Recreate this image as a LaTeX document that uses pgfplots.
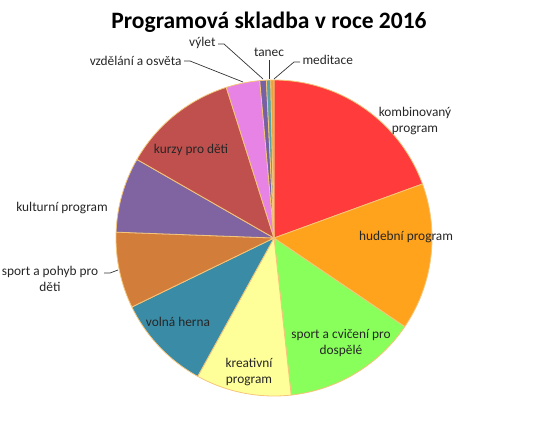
\documentclass[border=0pt]{standalone}
\usepackage{pgfplots}
\pgfplotsset{compat=1.18}
\usepackage{pgfplotstable}
\usepackage{fontspec}
\setmainfont{Carlito}

\definecolor{cKomb}{HTML}{FF3B3B}
\definecolor{cHudba}{HTML}{FFA21C}
\definecolor{cSportD}{HTML}{88FF5A}
\definecolor{cKreat}{HTML}{FFFF99}
\definecolor{cHerna}{HTML}{3A8BA6}
\definecolor{cSportK}{HTML}{D27D3A}
\definecolor{cKult}{HTML}{8064A2}
\definecolor{cKurzy}{HTML}{C0504D}
\definecolor{cOsveta}{HTML}{E683E5}
\definecolor{cVylet}{HTML}{7660A6}
\definecolor{cTanec}{HTML}{5DA0A5}
\definecolor{cMedit}{HTML}{E8A33C}
\definecolor{cEdge}{HTML}{F5C67A}

% share of each programme (percent), clockwise from 12 o'clock
\pgfplotstableread[col sep=comma]{
value,color
19.44,cKomb
15.03,cHudba
13.78,cSportD
9.75,cKreat
9.78,cHerna
7.78,cSportK
7.69,cKult
11.83,cKurzy
3.44,cOsveta
0.67,cVylet
0.44,cTanec
0.33,cMedit
}\piedata

\begin{document}
\begin{tikzpicture}[
    slice/.style={draw=cEdge, line width=0.8bp, line join=round},
    lbl/.style={font=\fontsize{13.4}{16.5}\selectfont, align=center, text=black!85},
    lead/.style={black!80, line width=0.7bp},
]
\pgfplotstablegetrowsof{\piedata}
\pgfmathtruncatemacro\lastrow{\pgfplotsretval-1}
\gdef\total{0}
\foreach \i in {0,...,\lastrow}{%
  \pgfplotstablegetelem{\i}{value}\of\piedata
  \pgfmathsetmacro\tmpsum{\total+\pgfplotsretval}%
  \global\let\total\tmpsum
}
\gdef\acc{0}
\begin{axis}[
    width=542bp, height=437bp, scale only axis,
    xmin=0, xmax=542, ymin=0, ymax=437,
    y dir=reverse,
    axis line style={draw=none},
    xtick=\empty, ytick=\empty,
    clip=false,
]
\pgfplotsinvokeforeach{0,...,\lastrow}{
  \pgfplotstablegetelem{#1}{value}\of\piedata
  \let\sliceval\pgfplotsretval
  \pgfplotstablegetelem{#1}{color}\of\piedata
  \let\slicecol\pgfplotsretval
  \pgfmathsetmacro\sliceend{\acc+360*\sliceval/\total}
  \edef\tmp{\noexpand\addplot[slice, fill=\slicecol, domain=\acc:\sliceend, samples=60]
    ({274+158*sin(x)},{238-158*cos(x)}) -- (axis cs:274,238) -- cycle;}
  \tmp
  \global\let\acc\sliceend
}

\node[font=\fontsize{23.6}{28}\selectfont\bfseries] at (axis cs:269,22) {Programová skladba v roce 2016};

\node[lbl] at (axis cs:415,121) {kombinovaný\\program};
\node[lbl] at (axis cs:406,237) {hudební program};
\node[lbl] at (axis cs:341,343) {sport a cvičení pro\\dospělé};
\node[lbl] at (axis cs:249,372) {kreativní\\program};
\node[lbl] at (axis cs:178,322) {volná herna};
\node[lbl] at (axis cs:50,279) {sport a pohyb pro\\děti};
\node[lbl] at (axis cs:62,208) {kulturní program};
\node[lbl] at (axis cs:191,150) {kurzy pro děti};
\node[lbl, anchor=east] at (axis cs:185,61) {vzdělání a osvěta};
\node[lbl, anchor=east] at (axis cs:219,43) {výlet};
\node[lbl] at (axis cs:269,52) {tanec};
\node[lbl, anchor=west] at (axis cs:299,60) {meditace};

\draw[lead] (axis cs:104,273) -- (axis cs:110,273) -- (axis cs:118,270);
\draw[lead] (axis cs:184,61) -- (axis cs:190,61) -- (axis cs:243,82);
\draw[lead] (axis cs:218,44) -- (axis cs:224,44) -- (axis cs:263,79);
\draw[lead] (axis cs:269,60) -- (axis cs:269,79);
\draw[lead] (axis cs:300,62) -- (axis cs:294,62) -- (axis cs:274,79);

\coordinate (bl) at (rel axis cs:0,0);
\coordinate (tr) at (rel axis cs:1,1);
\end{axis}
\pgfresetboundingbox
\useasboundingbox (bl) rectangle (tr);
\end{tikzpicture}
\end{document}
